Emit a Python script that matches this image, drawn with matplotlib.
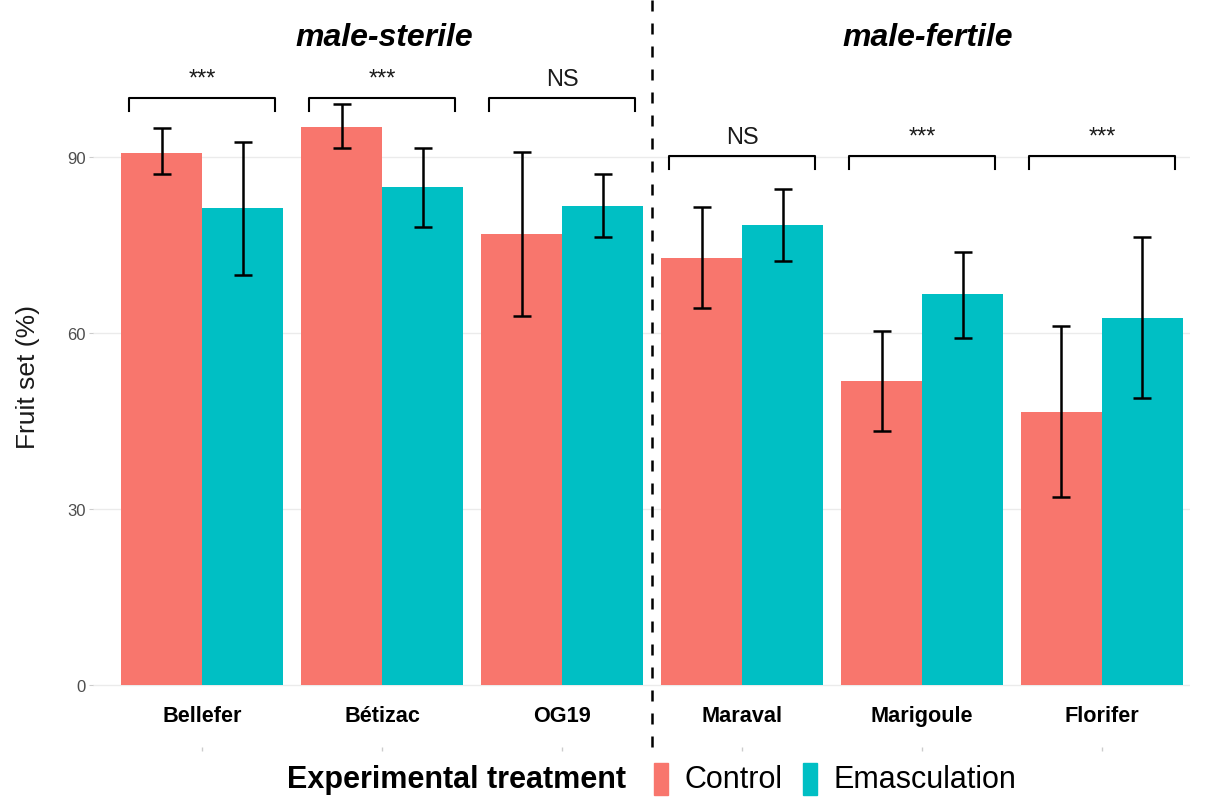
import matplotlib.pyplot as plt
import matplotlib.patches as mpatches
import numpy as np

plt.rcParams['font.family'] = ['Liberation Sans', 'DejaVu Sans']

cultivars = ['Bellefer', 'Bétizac', 'OG19', 'Maraval', 'Marigoule', 'Florifer']
control = [90.8, 95.2, 76.9, 72.8, 51.9, 46.6]
control_lo = [87.1, 91.7, 62.9, 64.3, 43.4, 32.1]
control_hi = [95.0, 99.1, 91.0, 81.5, 60.4, 61.2]
emasc = [81.3, 85.0, 81.8, 78.4, 66.7, 62.6]
emasc_lo = [69.9, 78.2, 76.5, 72.3, 59.2, 49.0]
emasc_hi = [92.7, 91.7, 87.2, 84.7, 73.8, 76.4]
signif = ['***', '***', 'NS', 'NS', '***', '***']
groups = ['male-sterile', 'male-fertile']

red = '#F8766D'
teal = '#00BFC4'
W, H = 1206, 803

fig = plt.figure(figsize=(W / 100, H / 100), dpi=100)
ax = fig.add_axes([93 / W, 0.1311, (1190 - 93) / W, 0.8686])

x = np.arange(1, len(cultivars) + 1)
bw = 0.45
ax.bar(x - bw / 2, control, width=bw, color=red, zorder=2)
ax.bar(x + bw / 2, emasc, width=bw, color=teal, zorder=2)

err_c = [np.array(control) - np.array(control_lo), np.array(control_hi) - np.array(control)]
err_e = [np.array(emasc) - np.array(emasc_lo), np.array(emasc_hi) - np.array(emasc)]
ekw = dict(fmt='none', ecolor='black', elinewidth=1.8, capsize=6.5, capthick=1.8, zorder=3)
ax.errorbar(x - bw / 2, control, yerr=err_c, **ekw)
ax.errorbar(x + bw / 2, emasc, yerr=err_e, **ekw)

# significance brackets
for i, lab in enumerate(signif):
    yb = 100.2 if i < 3 else 90.3
    xc = x[i]
    ax.plot([xc - 0.405, xc - 0.405, xc + 0.405, xc + 0.405],
            [yb - 2.2, yb, yb, yb - 2.2], color='black', lw=1.5,
            clip_on=False, zorder=3)
    ax.text(xc, yb + 2.2, lab, ha='center', va='baseline', fontsize=17,
            color='#1a1a1a')

# group titles and separator
ax.text(2.01, 110.5, groups[0], ha='center', va='center', fontsize=23,
        fontweight='bold', style='italic')
ax.text(5.03, 110.5, groups[1], ha='center', va='center', fontsize=23,
        fontweight='bold', style='italic')
ax.plot([3.5, 3.5], [116.8, -10.9], color='black', lw=1.8,
        linestyle=(0, (4.4, 4.8)), clip_on=False, zorder=4)

# faint secondary tick marks under the labels
ax.plot(x, np.full(len(x), -10.9), ls='none', marker='|', ms=3,
        color='#cccccc', clip_on=False)

ax.set_xlim(0.394, 6.489)
ax.set_ylim(-2, 117)
ax.set_yticks([0, 30, 60, 90])
ax.set_xticks(x)
ax.set_xticklabels(cultivars, fontweight='bold', fontsize=15.6)
ax.tick_params(axis='x', length=0, pad=6)
ax.tick_params(axis='y', length=3, width=0.8, color='#cccccc', labelsize=12,
               labelcolor='#4D4D4D', pad=2)
ax.grid(axis='y', color='#EBEBEB', lw=1, zorder=0)
for s in ax.spines.values():
    s.set_visible(False)

def fy(py):
    return 1 - py / H

fig.text(28 / W, fy(377), 'Fruit set (%)', fontsize=19, rotation=90,
         ha='center', va='center', color='#1a1a1a')

# legend at bottom
fig.text(287 / W, fy(780), 'Experimental treatment', fontsize=22,
         fontweight='bold', ha='left', va='center')
fig.patches.append(mpatches.Rectangle((654 / W, fy(796)), 14 / W, 32 / H,
                                      transform=fig.transFigure, color=red))
fig.text(685 / W, fy(780), 'Control', fontsize=22, ha='left', va='center')
fig.patches.append(mpatches.Rectangle((803 / W, fy(796)), 14 / W, 32 / H,
                                      transform=fig.transFigure, color=teal))
fig.text(834 / W, fy(780), 'Emasculation', fontsize=22, ha='left', va='center')

fig.savefig('out.png', dpi=100)
